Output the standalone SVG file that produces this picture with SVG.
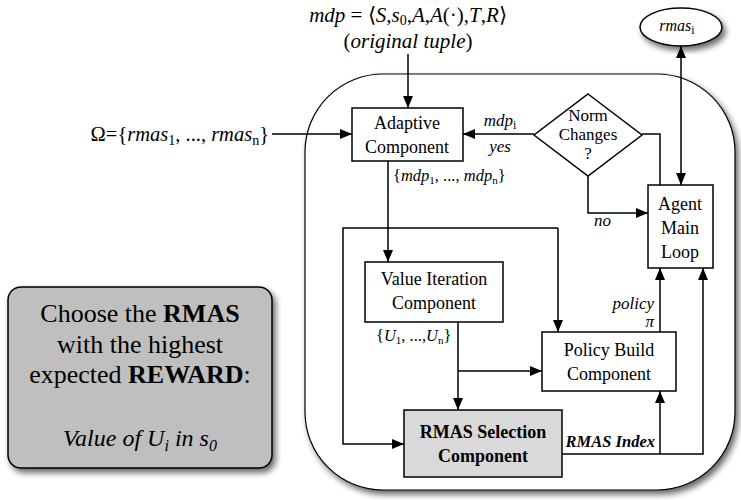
<svg xmlns="http://www.w3.org/2000/svg" width="741" height="500" viewBox="0 0 741 500">
  <defs>
    <filter id="shadow" x="-10%" y="-10%" width="130%" height="130%">
      <feGaussianBlur in="SourceAlpha" stdDeviation="3"/>
      <feOffset dx="3" dy="4" result="b"/>
      <feComponentTransfer><feFuncA type="linear" slope="0.6"/></feComponentTransfer>
      <feMerge><feMergeNode/><feMergeNode in="SourceGraphic"/></feMerge>
    </filter>
    <marker id="arrow" viewBox="0 0 12 12" refX="12" refY="6" markerWidth="12" markerHeight="12" markerUnits="userSpaceOnUse" orient="auto-start-reverse">
      <path d="M0,1 L12,6 L0,11 Z" fill="#000"/>
    </marker>
  </defs>
  <style>
    text { font-family: "Liberation Serif", "Times New Roman", serif; fill: #000; }
    .box { fill: #fff; stroke: #000; stroke-width: 1.5; }
    .lbl { font-size: 18px; text-anchor: middle; }
    .it { font-style: italic; }
    .edge { fill: none; stroke: #000; stroke-width: 1.5; }
    .arr { marker-end: url(#arrow); }
  </style>
  <rect width="741" height="500" fill="#fff"/>

  <!-- agent container -->
  <g id="container">
    <rect x="305" y="74" width="430" height="416" rx="78" ry="78" fill="#fff" stroke="#000" stroke-width="1.2" filter="url(#shadow)"/>
  </g>

  <!-- input labels -->
  <g id="mdp-tuple">
    <text x="408" y="22" font-size="21" text-anchor="middle"><tspan class="it">mdp</tspan> = ⟨<tspan class="it">S</tspan>,<tspan class="it">s</tspan><tspan font-size="14" dy="3">0</tspan><tspan dy="-3">,</tspan><tspan class="it">A</tspan>,<tspan class="it">A</tspan>(·),<tspan class="it">T</tspan>,<tspan class="it">R</tspan>⟩</text>
    <text x="408" y="48" font-size="21" text-anchor="middle">(<tspan class="it">original tuple</tspan>)</text>
  </g>
  <g id="omega">
    <text x="269" y="141" font-size="20.5" text-anchor="end">Ω={<tspan class="it">rmas</tspan><tspan font-size="14" dy="4">1</tspan><tspan dy="-4">, ..., </tspan><tspan class="it">rmas</tspan><tspan font-size="14" dy="4">n</tspan><tspan dy="-4">}</tspan></text>
  </g>

  <!-- rmas_i -->
  <g id="rmas-i">
    <ellipse cx="681" cy="27" rx="41" ry="19" fill="#fff" stroke="#000" stroke-width="1.5" filter="url(#shadow)"/>
    <text x="677" y="31" font-size="16" text-anchor="middle"><tspan class="it">rmas</tspan><tspan font-size="12" dy="3">i</tspan></text>
  </g>

  <!-- choose box -->
  <g id="choose-note">
    <rect x="8" y="287" width="264" height="181" rx="13" ry="13" fill="#bfbfbf" stroke="#000" stroke-width="1.5" filter="url(#shadow)"/>
    <text x="140" y="322" font-size="26" text-anchor="middle">Choose the <tspan font-weight="bold">RMAS</tspan></text>
    <text x="140" y="353" font-size="26" text-anchor="middle">with the highest</text>
    <text x="140" y="383" font-size="26" text-anchor="middle">expected <tspan font-weight="bold">REWARD</tspan>:</text>
    <text x="140" y="446" font-size="24" text-anchor="middle" font-style="italic">Value of U<tspan font-size="16" dy="5">i</tspan><tspan dy="-5"> in s</tspan><tspan font-size="16" dy="5">0</tspan></text>
  </g>

  <!-- connectors -->
  <g id="connectors">
    <path class="edge arr" d="M408,54 V108"/>
    <path class="edge arr" d="M272,134 H352"/>
    <path class="edge arr" d="M534,134 H463"/>
    <path class="edge" d="M642,134 H660 V185"/>
    <path class="edge arr" d="M681,46 V185" style="marker-start:url(#arrow)"/>
    <path class="edge arr" d="M588,176 V213 H648"/>
    <path class="edge arr" d="M388,161 V262"/>
    <path class="edge arr" d="M558,228 H343 V444 H404"/>
    <path class="edge arr" d="M558,228 V332"/>
    <path class="edge arr" d="M458,322 V410"/>
    <path class="edge arr" d="M458,371 H542"/>
    <path class="edge arr" d="M660,332 V268"/>
    <path class="edge arr" d="M562,454 H703 V268"/>
    <path class="edge arr" d="M660,454 V391"/>
    <!-- edge labels -->
    <text x="500" y="126" font-size="17" text-anchor="middle" class="it">mdp<tspan font-size="12" dy="3" font-style="normal">i</tspan></text>
    <text x="500" y="152" font-size="17" text-anchor="middle" class="it">yes</text>
    <text x="594" y="226" font-size="17" text-anchor="start" class="it">no</text>
    <text x="393" y="181" font-size="16.5" text-anchor="start">{<tspan class="it">mdp</tspan><tspan font-size="11" dy="3">1</tspan><tspan dy="-3">, ..., </tspan><tspan class="it">mdp</tspan><tspan font-size="11" dy="3">n</tspan><tspan dy="-3">}</tspan></text>
    <text x="376" y="341" font-size="16.5" text-anchor="start">{<tspan class="it">U</tspan><tspan font-size="11" dy="3">1</tspan><tspan dy="-3">, ...,</tspan><tspan class="it">U</tspan><tspan font-size="11" dy="3">n</tspan><tspan dy="-3">}</tspan></text>
    <text x="654" y="309" font-size="17" text-anchor="end" class="it">policy</text>
    <text x="654" y="327" font-size="17" text-anchor="end" class="it">π</text>
    <text x="655" y="447" font-size="16.5" text-anchor="end" font-weight="bold" class="it">RMAS Index</text>
  </g>

  <!-- components -->
  <g id="adaptive">
    <rect class="box" x="352" y="108" width="111" height="53"/>
    <text class="lbl" x="407" y="129">Adaptive</text>
    <text class="lbl" x="407" y="153">Component</text>
  </g>
  <g id="norm-changes">
    <path class="box" d="M588,94 L642,135 L588,176 L534,135 Z"/>
    <text x="588" y="121" font-size="17" text-anchor="middle">Norm</text>
    <text x="588" y="140" font-size="17" text-anchor="middle">Changes</text>
    <text x="588" y="159" font-size="17" text-anchor="middle">?</text>
  </g>
  <g id="agent-main-loop">
    <rect class="box" x="648" y="185" width="65" height="83"/>
    <text class="lbl" x="680" y="210">Agent</text>
    <text class="lbl" x="680" y="234">Main</text>
    <text class="lbl" x="680" y="258">Loop</text>
  </g>
  <g id="value-iteration">
    <rect class="box" x="365" y="262" width="138" height="60"/>
    <text class="lbl" x="434" y="285">Value Iteration</text>
    <text class="lbl" x="434" y="309">Component</text>
  </g>
  <g id="policy-build">
    <rect class="box" x="542" y="332" width="134" height="59"/>
    <text class="lbl" x="609" y="356">Policy Build</text>
    <text class="lbl" x="609" y="380">Component</text>
  </g>
  <g id="rmas-selection">
    <rect class="box" x="404" y="410" width="158" height="67" style="fill:#d9d9d9"/>
    <text class="lbl" x="483" y="438" font-weight="bold">RMAS Selection</text>
    <text class="lbl" x="483" y="462" font-weight="bold">Component</text>
  </g>
</svg>
